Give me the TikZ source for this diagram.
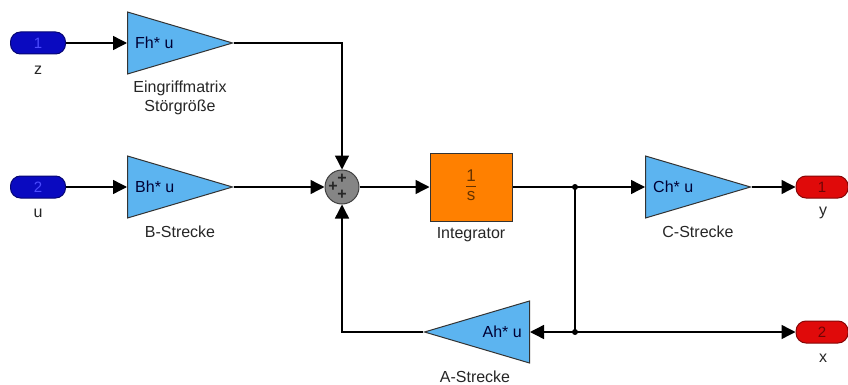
\documentclass[tikz,border=0pt]{standalone}
\usepackage{fontspec}
\setmainfont{Liberation Sans}
\usetikzlibrary{positioning,arrows.meta,shapes.geometric}
\definecolor{inblue}{HTML}{0A0AC0}
\definecolor{outred}{HTML}{E00A0A}
\definecolor{gainblue}{HTML}{5CB4F0}
\definecolor{intorange}{HTML}{FF8000}
\definecolor{sumgray}{HTML}{858585}
\tikzset{
    port/.style={rectangle,rounded corners=10pt,minimum width=55pt,minimum height=22pt,inner sep=0pt,font=\fontsize{15}{15}\selectfont},
    inport/.style={port,draw=inblue!60!black,fill=inblue,text=blue!70!white,line width=1pt},
    outport/.style={port,draw=outred!60!black,fill=outred,text=outred!50!black,line width=1pt,minimum width=52pt},
    gain/.style={isosceles triangle,isosceles triangle stretches,draw=black!80,fill=gainblue,line width=1pt,minimum width=62pt,minimum height=105pt,inner sep=0pt},
    gaintext/.style={font=\fontsize{16}{16}\selectfont,text=black!80!blue,anchor=west,inner sep=0pt},
    blocklabel/.style={font=\fontsize{16}{19}\selectfont,text=black!85,align=center},
    sig/.style={draw,line width=1.4pt,-{Triangle[length=14pt,width=14pt]}},
    wire/.style={draw,line width=1.4pt},
    dot/.style={circle,fill=black,inner sep=0pt,minimum size=6pt},
}
\begin{document}
\begin{tikzpicture}[x=1pt,y=-1pt]
    \useasboundingbox[fill=white] (0,0) rectangle (848,385);
    % ports
    \node[inport] (inz) at (38,43) {1};
    \node[inport] (inu) at (38,187) {2};
    \node[outport] (outy) at (822,187) {1};
    \node[outport] (outx) at (822,332) {2};
    \node[blocklabel] at (38,70) {z};
    \node[blocklabel] at (38,213) {u};
    \node[blocklabel] at (823,213) {y};
    \node[blocklabel] at (823,358) {x};
    % gains
    \node[gain,anchor=lower side] (fh) at (127,43) {};
    \node[gaintext] (fhtxt) at (135,43) {Fh* u};
    \node[blocklabel] at (180,98) {Eingriffmatrix\\Störgröße};
    \node[gain,anchor=lower side] (bh) at (127,187) {};
    \node[gaintext] (bhtxt) at (135,187) {Bh* u};
    \node[blocklabel] at (180,232) {B-Strecke};
    \node[gain,anchor=lower side] (ch) at (645,187) {};
    \node[gaintext] (chtxt) at (653,187) {Ch* u};
    \node[blocklabel] at (698,232) {C-Strecke};
    \node[gain,shape border rotate=180,anchor=lower side] (ah) at (530,332) {};
    \node[gaintext,anchor=east] (ahtxt) at (522,332) {Ah* u};
    \node[blocklabel] at (475,377) {A-Strecke};
    % sum and integrator
    \node[circle,draw=black!75,fill=sumgray,line width=1pt,minimum size=34pt,inner sep=0pt] (sum) at (342,187) {};
    \foreach \dx/\dy in {0/-8,-9/0,0/8}
        \node[font=\fontsize{16}{16}\selectfont\bfseries,text=black!85,inner sep=0pt] at ([shift={(\dx,\dy)}]sum.center) {+};
    \node[rectangle,draw=black!80,fill=intorange,line width=1pt,minimum width=82pt,minimum height=68pt,inner sep=0pt,font=\fontsize{17}{19}\selectfont,text=intorange!40!black] (integ) at (471,187) {\begin{tabular}{@{}c@{}}1\\[-1pt]\hline s\end{tabular}};
    \node[blocklabel] at (471,235) {Integrator};
    % branch points
    \node[dot] (br1) at (575,187) {};
    \node[dot] (br2) at (575,332) {};
    \coordinate (fbk) at (342,332);
    % signals
    \draw[sig] (inz) -- (fh.lower side);
    \draw[sig] (inu) -- (bh.lower side);
    \draw[sig] (fh.apex) -| (sum.north);
    \draw[sig] (bh.apex) -- (sum.west);
    \draw[sig] (sum.east) -- (integ.west);
    \draw[sig] (integ.east) -- (ch.lower side);
    \draw[sig] (ch.apex) -- (outy.west);
    \draw[wire] (br1.center) -- (br2.center);
    \draw[sig] (br2.center) -- (ah.lower side);
    \draw[sig] (br2.center) -- (outx.west);
    \draw[sig] (ah.apex) -- (fbk) -- (sum.south);
\end{tikzpicture}
\end{document}
